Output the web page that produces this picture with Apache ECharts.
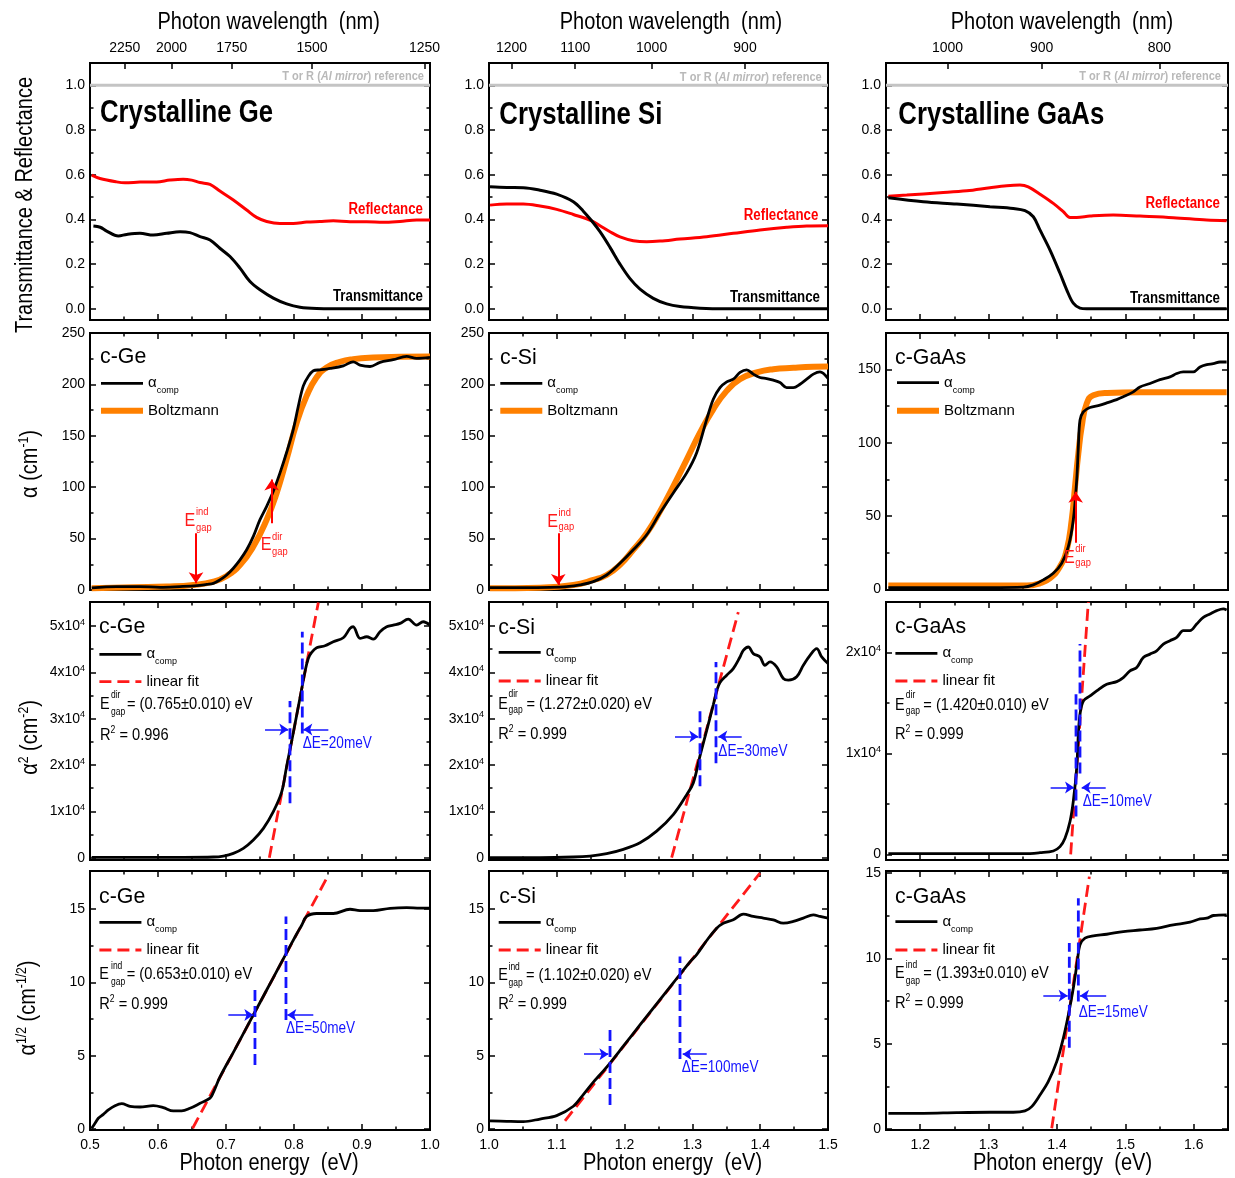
<!DOCTYPE html>
<html>
<head>
<meta charset="utf-8">
<title>Absorption edge of c-Ge, c-Si and c-GaAs</title>
<script src="https://cdn.jsdelivr.net/npm/echarts@6.0.0/dist/echarts.min.js"></script>
<style>
  html, body { margin: 0; padding: 0; background: #fff; }
  #main { width: 1235px; height: 1178px; }
</style>
</head>
<body>
<div id="main"></div>
<script>
const FONT = '"Liberation Sans", Arial, sans-serif';
const SX = 0.85; // horizontal squeeze for the condensed look of the figure texts
const HC = 1239.84; // eV*nm, used for the wavelength axis

// ---- row 1: transmittance / reflectance, [photon energy eV, value]
const geTrans = [[0.505,0.371],[0.515,0.365],[0.5245,0.348],[0.5417,0.326],[0.554,0.333],[0.5735,0.338],[0.593,0.33],[0.6128,0.338],[0.6324,0.345],[0.647,0.341],[0.6618,0.323],[0.6765,0.308],[0.691,0.271],[0.7059,0.234],[0.7206,0.182],[0.7353,0.122],[0.75,0.085],[0.7696,0.048],[0.7892,0.022],[0.8088,0.007],[0.8333,0.001],[0.8578,0],[1.0,0]];
const geRefl = [[0.5025,0.598],[0.5147,0.583],[0.539,0.568],[0.5515,0.564],[0.5735,0.567],[0.598,0.568],[0.6176,0.576],[0.637,0.58],[0.6495,0.576],[0.6618,0.565],[0.6765,0.557],[0.691,0.527],[0.7108,0.487],[0.7304,0.442],[0.745,0.409],[0.7598,0.391],[0.7794,0.382],[0.799,0.382],[0.8186,0.388],[0.838,0.391],[0.8578,0.394],[0.8824,0.39],[0.9069,0.39],[0.9313,0.387],[0.9559,0.391],[0.9804,0.397],[1.0,0.397]];
const siTrans = [[1.0015,0.546],[1.0261,0.543],[1.0506,0.542],[1.0752,0.531],[1.0998,0.513],[1.1244,0.479],[1.1391,0.437],[1.1514,0.394],[1.1637,0.345],[1.1785,0.275],[1.1932,0.2],[1.208,0.135],[1.2227,0.088],[1.2423,0.047],[1.2621,0.022],[1.2817,0.01],[1.3112,0.003],[1.3456,0],[1.5,0]];
const siRefl = [[1.0015,0.464],[1.0261,0.469],[1.0506,0.469],[1.0752,0.46],[1.0998,0.445],[1.1244,0.422],[1.1514,0.394],[1.1637,0.372],[1.1785,0.345],[1.1932,0.322],[1.2128,0.305],[1.2326,0.3],[1.2522,0.303],[1.2817,0.312],[1.3211,0.323],[1.3603,0.338],[1.3997,0.353],[1.4391,0.365],[1.4686,0.371],[1.5,0.372]];
const gaTrans = [[1.1534,0.497],[1.2045,0.479],[1.2534,0.469],[1.302,0.457],[1.3361,0.449],[1.3532,0.439],[1.3654,0.412],[1.3751,0.353],[1.3898,0.263],[1.4044,0.159],[1.4142,0.085],[1.4238,0.025],[1.4336,0.003],[1.4434,0],[1.648,0]];
const gaRefl = [[1.1534,0.504],[1.1803,0.509],[1.229,0.519],[1.268,0.528],[1.302,0.542],[1.3265,0.551],[1.3459,0.554],[1.358,0.546],[1.3751,0.513],[1.3946,0.472],[1.4092,0.435],[1.419,0.409],[1.4288,0.409],[1.4482,0.415],[1.4823,0.42],[1.5213,0.415],[1.57,0.408],[1.6189,0.397],[1.648,0.394]];

// ---- row 2: alpha (cm-1) and Boltzmann fit
const geAlpha = [[0.5025,2],[0.539,3.3],[0.5735,3.3],[0.603,2.6],[0.632,3.3],[0.657,4.2],[0.6716,5.5],[0.6814,6.5],[0.691,9.8],[0.701,14.6],[0.7108,21.2],[0.7206,29.3],[0.7304,39.1],[0.7402,52.1],[0.75,68.4],[0.7598,81.4],[0.7696,96],[0.7794,113.9],[0.789,133.5],[0.799,156.3],[0.8064,179],[0.8137,198.6],[0.821,207.7],[0.8284,213.2],[0.838,214.2],[0.853,215.5],[0.8725,218.1],[0.887,222],[0.897,218.8],[0.9118,217.4],[0.9265,221.4],[0.946,224],[0.9657,227.2],[0.9804,225.3],[1.0,226.2]];
const geBoltz = [[0.5025,1.6],[0.5637,2.6],[0.6128,3.3],[0.652,4.9],[0.6814,8.1],[0.701,13.7],[0.7206,24.4],[0.7402,42.3],[0.7598,68.4],[0.7745,94.4],[0.789,126.9],[0.804,162.8],[0.8186,188.8],[0.833,206.7],[0.848,216.5],[0.8676,222],[0.887,224.6],[0.9167,226.2],[0.9559,226.9],[1.0,227.2]];
const siAlpha = [[1.0015,2.3],[1.0506,2.3],[1.09,2.6],[1.1146,3.3],[1.1342,4.9],[1.1539,8.1],[1.1736,14.6],[1.1932,26],[1.2128,39.1],[1.2326,53.7],[1.2522,74.9],[1.2718,94.4],[1.2916,113.9],[1.3063,133.5],[1.3211,166],[1.3308,185.5],[1.3407,196.9],[1.3506,202.5],[1.3603,205.1],[1.3702,211.6],[1.38,214.2],[1.3898,210],[1.3997,206.7],[1.4096,205.7],[1.4193,204.1],[1.4292,201.8],[1.439,196.9],[1.4489,196.9],[1.4587,200.2],[1.4686,205.1],[1.4784,210],[1.4882,212.2],[1.5,205.7]];
const siBoltz = [[1.0015,1.6],[1.0752,2.3],[1.1244,4.9],[1.1539,9.8],[1.1736,14.6],[1.1932,24.4],[1.2128,39.1],[1.2326,55.3],[1.2522,76.5],[1.2718,100.9],[1.2916,126.9],[1.3112,153],[1.3308,175.8],[1.3506,193.7],[1.3702,205.1],[1.3948,211.6],[1.4193,214.8],[1.4489,216.1],[1.4784,217.1],[1.5,217.4]];
const gaAlpha = [[1.1534,1.1],[1.229,1.1],[1.302,1.1],[1.3508,1.4],[1.3654,3],[1.38,6.4],[1.3946,10.9],[1.4068,17.7],[1.4166,29.1],[1.4238,47.3],[1.4288,74.5],[1.4312,97.3],[1.4336,115.5],[1.4385,121.1],[1.4482,124.1],[1.4629,125.7],[1.4727,127.3],[1.4873,129.5],[1.4969,131.4],[1.5116,134.8],[1.5213,138.2],[1.536,140.5],[1.5506,143.2],[1.5652,145],[1.575,147.3],[1.5846,148.4],[1.5993,148.4],[1.6091,151.8],[1.6189,153.4],[1.6285,154.1],[1.6383,155.2],[1.648,155.2]];
const gaBoltz = [[1.1534,2.5],[1.2777,2.5],[1.3557,2.5],[1.3751,4.1],[1.3898,7.5],[1.4044,15.5],[1.4142,26.8],[1.4215,47.3],[1.4263,70],[1.4312,92.7],[1.4361,110.9],[1.4434,126.8],[1.4531,132.5],[1.4727,134.1],[1.5213,134.5],[1.648,134.5]];
// red gap arrows: [from, to]
const geGapArrows = [[[0.6559,55.3],[0.6559,6.5]],[[0.7672,65],[0.7672,107.4]]];
const siGapArrows = [[[1.1022,55.3],[1.1022,4.9]]];
const gaGapArrows = [[[1.4273,31.8],[1.4273,66.6]]];

// ---- row 3: alpha^2 (cm-2), linear fit, dashed markers and arrows
const geAlpha2 = [[0.5025,72],[0.5637,72],[0.6373,72],[0.6814,144],[0.696,360],[0.7108,935],[0.7255,2014],[0.7402,3813],[0.755,6331],[0.7696,9928],[0.7819,14200],[0.789,19600],[0.7966,25200],[0.804,30800],[0.8113,36400],[0.8162,40200],[0.821,43000],[0.826,44300],[0.8333,45300],[0.8456,45755],[0.8578,46619],[0.8725,47482],[0.8824,49496],[0.887,49856],[0.8971,47338],[0.9069,47697],[0.9167,47194],[0.9265,48776],[0.9363,49856],[0.946,50216],[0.9559,50575],[0.968,51510],[0.9804,50216],[0.99,50935],[1.0,50216]];
const siAlpha2 = [[1.0015,0],[1.0752,0],[1.1244,143],[1.149,358],[1.1736,860],[1.1981,1791],[1.2227,3223],[1.2473,5730],[1.2718,9312],[1.2916,13609],[1.3013,16117],[1.3112,22000],[1.3211,27500],[1.3308,33000],[1.3358,36000],[1.3407,37820],[1.3506,39396],[1.3603,40829],[1.3702,43336],[1.3751,44768],[1.3825,45485],[1.3898,44052],[1.3997,43336],[1.407,41545],[1.4145,42261],[1.4243,41187],[1.4341,38680],[1.4415,38322],[1.4538,39038],[1.4636,41545],[1.4735,43694],[1.4833,45127],[1.4907,43336],[1.5,41903]];
const gaAlpha2 = [[1.1534,66],[1.229,66],[1.302,66],[1.3508,66],[1.3751,166],[1.3946,332],[1.4044,763],[1.4117,1592],[1.419,3251],[1.4238,5241],[1.4288,8558],[1.4312,11875],[1.4336,13865],[1.4385,15192],[1.4482,15689],[1.458,16187],[1.4727,16850],[1.4873,17115],[1.4969,17513],[1.5067,18177],[1.5165,18509],[1.5262,19504],[1.536,19836],[1.5457,20167],[1.5555,20831],[1.5652,21163],[1.575,21494],[1.5846,22158],[1.5944,22158],[1.6042,22821],[1.6139,23485],[1.6237,23817],[1.6335,24148],[1.6432,24314],[1.648,24214]];
const geFit2 = [[0.7637,0],[0.8358,55100]];
const siFit2 = [[1.2694,0],[1.3677,53000]];
const gaFit2 = [[1.42,0],[1.4458,25000]];
const geMark2 = [[[0.7941,11726],[0.7941,33812]],[[0.8122,26834],[0.8122,48775]]];
const siMark2 = [[[1.3112,15400],[1.3112,32233]],[[1.3348,20414],[1.3348,42261]]];
const gaMark2 = [[[1.4278,3748],[1.4278,15855]],[[1.4336,8000],[1.4336,20831]]];
const geArrow2 = [[[0.7574,27697],[0.7916,27697]],[[0.8505,27697],[0.8137,27697]]];
const siArrow2 = [[[1.2743,26145],[1.3087,26145]],[[1.3727,26145],[1.3382,26145]]];
const gaArrow2 = [[[1.3907,6634],[1.4249,6634]],[[1.4712,6634],[1.4361,6634]]];

// ---- row 4: alpha^1/2 (cm-1/2)
const geRoot = [[0.5025,0.05],[0.5074,0.39],[0.5122,0.73],[0.5196,1.0],[0.527,1.3],[0.5368,1.59],[0.5466,1.73],[0.5588,1.55],[0.5735,1.5],[0.5931,1.59],[0.6078,1.46],[0.6225,1.23],[0.6348,1.23],[0.647,1.41],[0.6618,1.75],[0.6765,2.1],[0.6814,2.5],[0.691,3.53],[0.7108,5.23],[0.7304,6.93],[0.75,8.63],[0.7696,10.33],[0.789,12.02],[0.8039,13.3],[0.8113,13.9],[0.8186,14.5],[0.8333,14.7],[0.8578,14.7],[0.8824,14.99],[0.897,14.9],[0.9167,14.9],[0.9412,15.05],[0.9657,15.1],[0.9853,15.07],[1.0,15.07]];
const siRoot = [[1.0015,0.55],[1.0261,0.52],[1.0506,0.5],[1.0752,0.68],[1.0998,0.91],[1.1244,1.55],[1.1391,2.35],[1.1539,3.2],[1.1637,3.7],[1.1785,4.5],[1.1981,5.65],[1.2227,7.1],[1.2473,8.54],[1.2718,9.97],[1.2965,11.4],[1.3063,11.9],[1.3211,12.86],[1.3358,13.7],[1.3456,14.04],[1.3603,14.27],[1.3751,14.66],[1.3898,14.5],[1.4046,14.39],[1.4193,14.27],[1.4341,14.04],[1.4489,14.16],[1.4636,14.39],[1.4784,14.61],[1.4882,14.5],[1.5,14.39]];
const gaRoot = [[1.1534,0.92],[1.2045,0.92],[1.2534,0.96],[1.302,0.98],[1.3361,0.98],[1.3532,1.06],[1.363,1.31],[1.3751,1.99],[1.3872,2.77],[1.3996,3.95],[1.4092,5.32],[1.4166,6.69],[1.4238,8.25],[1.4297,9.82],[1.4336,10.8],[1.4409,11.19],[1.4531,11.33],[1.4727,11.42],[1.4969,11.58],[1.5213,11.67],[1.5457,11.77],[1.57,11.97],[1.5944,12.13],[1.6091,12.32],[1.6189,12.36],[1.6285,12.52],[1.648,12.56]];
const geFit3 = [[0.651,0.05],[0.848,17.1]];
const siFit3 = [[1.1121,0.55],[1.3997,17.46]];
const gaFit3 = [[1.3923,0.04],[1.4473,14.8]];
const geMark3 = [[[0.7426,4.37],[0.7426,9.83]],[[0.7882,7.44],[0.7882,14.5]]];
const siMark3 = [[[1.1785,1.64],[1.1785,7.1]],[[1.2817,4.78],[1.2817,11.77]]];
const gaMark3 = [[[1.418,4.77],[1.418,10.9]],[[1.4312,7.47],[1.4312,13.53]]];
const geArrow3 = [[[0.7034,7.78],[0.7402,7.78]],[[0.8284,7.78],[0.7902,7.78]]];
const siArrow3 = [[[1.1401,5.1],[1.176,5.1]],[[1.3211,5.1],[1.2857,5.1]]];
const gaArrow3 = [[[1.38,7.82],[1.4156,7.82]],[[1.4719,7.82],[1.4336,7.82]]];

// ---- axes: ranges and tick values
const materials = ['Ge', 'Si', 'GaAs'];
const xRange = [[0.5, 1.0], [1.0, 1.5], [1.15, 1.65]];
const xMajor = [[0.5,0.6,0.7,0.8,0.9,1.0],[1.0,1.1,1.2,1.3,1.4,1.5],[1.2,1.3,1.4,1.5,1.6]];
const xMinor = [[0.55,0.65,0.75,0.85,0.95],[1.05,1.15,1.25,1.35,1.45],[1.25,1.35,1.45,1.55]];
const wavelengthTicks = [[2250,2000,1750,1500,1250],[1200,1100,1000,900],[1000,900,800]];
const yRange = [
  [[-0.05,1.1],[-0.05,1.1],[-0.05,1.1]],
  [[0,250],[0,250],[-0.5,175]],
  [[-500,55200],[-500,55200],[-560,25000]],
  [[-0.07,17.6],[-0.07,17.6],[-0.06,15.13]]
];
const yMajor = [
  [[0,0.2,0.4,0.6,0.8,1.0],[0,0.2,0.4,0.6,0.8,1.0],[0,0.2,0.4,0.6,0.8,1.0]],
  [[0,50,100,150,200,250],[0,50,100,150,200,250],[0,50,100,150]],
  [[0,10000,20000,30000,40000,50000],[0,10000,20000,30000,40000,50000],[0,10000,20000]],
  [[0,5,10,15],[0,5,10,15],[0,5,10,15]]
];
const yMinor = [
  [[0.1,0.3,0.5,0.7,0.9],[0.1,0.3,0.5,0.7,0.9],[0.1,0.3,0.5,0.7,0.9]],
  [[25,75,125,175,225],[25,75,125,175,225],[25,75,125]],
  [[5000,15000,25000,35000,45000],[5000,15000,25000,35000,45000],[5000,15000]],
  [[2.5,7.5,12.5],[2.5,7.5,12.5],[2.5,7.5,12.5]]
];
const yFormat = [
  v => v.toFixed(1),
  v => String(Math.round(v)),
  v => v === 0 ? '0' : Math.round(v / 10000) + 'x10{sup|4}',
  v => String(Math.round(v))
];
const yTitles = ['Transmittance & Reflectance', 'α (cm{sup|-1})', 'α{sup|2} (cm{sup|-2})', 'α{sup|1/2} (cm{sup|-1/2})'];
const yTitlePos = [[26, 205], [31, 464], [31, 737.5], [29, 1008]];
const topTitleX = [268.7, 671, 1062];
const bottomTitleX = [269, 672.5, 1062.5];

// layout of the 4 x 3 panels
const colLeft = [90, 489, 886];
const colWidth = [340, 339, 342];
const rowTop = [63, 333, 602, 871];
const rowHeight = [257, 257, 258, 259];

const grids = [], xAxes = [], yAxes = [], series = [], legends = [], graphics = [];

function tickAxis(g, position, range, values, len) {
  return {
    type: 'value', gridIndex: g, position: position, min: range[0], max: range[1],
    axisLine: { show: true, onZero: false, lineStyle: { color: '#000', width: 2 } },
    axisTick: { show: values.length > 0, inside: true, length: len, customValues: values, lineStyle: { color: '#000', width: 1.5 } },
    axisLabel: { show: false },
    splitLine: { show: false },
    silent: true
  };
}

function labels(values, formatter, margin) {
  return {
    show: true, customValues: values, formatter: formatter, margin: margin,
    color: '#000', fontFamily: FONT, fontSize: 14, lineHeight: 17,
    rich: { sup: { fontFamily: FONT, fontSize: 9, verticalAlign: 'top', lineHeight: 17, color: '#000' } }
  };
}

function line(name, g, data, color, width, extra) {
  return Object.assign({
    type: 'line', name: name, xAxisIndex: 4 * g, yAxisIndex: 4 * g, data: data,
    showSymbol: false, symbol: 'none', silent: true,
    lineStyle: { color: color, width: width }, itemStyle: { color: color }
  }, extra || {});
}

function arrowMarks(arrows, color, width, size) {
  return {
    silent: true, symbol: ['none', 'arrow'], symbolSize: size,
    label: { show: false },
    lineStyle: { color: color, width: width, type: 'solid' },
    itemStyle: { color: color },
    data: arrows.map(a => [{ coord: a[0] }, { coord: a[1] }])
  };
}

const smooth = { smooth: 0.35 };

function txt(x, y, text, size, opt) {
  opt = opt || {};
  const el = {
    type: 'text', x: x, y: y, silent: true, z: 10,
    scaleX: opt.sx === undefined ? SX : opt.sx,
    style: {
      text: text, fill: opt.color || '#000',
      fontFamily: FONT, fontSize: size, fontWeight: opt.bold ? 'bold' : 'normal',
      textAlign: opt.align || 'left', align: opt.align || 'left',
      textVerticalAlign: 'middle', verticalAlign: 'middle',
      rich: opt.rich
    }
  };
  if (opt.rotation) el.rotation = opt.rotation;
  return el;
}

// E with stacked super/subscript
function gapLabel(ex, ey, sx, supY, subY, kind, size, small, color) {
  graphics.push(txt(ex, ey, 'E', size, { color: color }));
  graphics.push(txt(sx, supY, kind, small, { color: color }));
  graphics.push(txt(sx, subY, 'gap', small, { color: color }));
}

const supRich = { sup: { fontFamily: FONT, fontSize: 10, verticalAlign: 'top', lineHeight: 20, fill: '#000' } };
const titleRich = { sup: { fontFamily: FONT, fontSize: 14, verticalAlign: 'top', lineHeight: 28, fill: '#000' } };

for (let r = 0; r < 4; r++) {
  for (let c = 0; c < 3; c++) {
    const g = r * 3 + c;
    grids.push({ left: colLeft[c], top: rowTop[r], width: colWidth[c], height: rowHeight[r] });
    const xr = xRange[c];

    const bottom = tickAxis(g, 'bottom', xr, xMajor[c], 6);
    if (r === 3) bottom.axisLabel = labels(xMajor[c], v => v.toFixed(1), 7);
    xAxes.push(bottom);
    xAxes.push(tickAxis(g, 'bottom', xr, xMinor[c], 3.5));
    if (r === 0) {
      const wlE = wavelengthTicks[c].map(l => HC / l);
      const top = tickAxis(g, 'top', xr, wlE, 6);
      top.axisLabel = labels(wlE, v => String(Math.round(HC / v)), 6);
      xAxes.push(top);
      xAxes.push(tickAxis(g, 'top', xr, [], 0));
    } else {
      xAxes.push(tickAxis(g, 'top', xr, xMajor[c], 6));
      xAxes.push(tickAxis(g, 'top', xr, xMinor[c], 3.5));
    }

    const yr = yRange[r][c];
    const left = tickAxis(g, 'left', yr, yMajor[r][c], 6);
    left.axisLabel = labels(yMajor[r][c], yFormat[r], 5);
    yAxes.push(left);
    yAxes.push(tickAxis(g, 'left', yr, yMinor[r][c], 3.5));
    yAxes.push(tickAxis(g, 'right', yr, yMajor[r][c], 6));
    yAxes.push(tickAxis(g, 'right', yr, yMinor[r][c], 3.5));
  }
}

// axis titles
for (let c = 0; c < 3; c++) {
  graphics.push(txt(topTitleX[c], 23, 'Photon wavelength  (nm)', 23, { align: 'center', sx: 0.87 }));
  graphics.push(txt(bottomTitleX[c], 1164, 'Photon energy  (eV)', 23, { align: 'center', sx: 0.87 }));
}
for (let r = 0; r < 4; r++) {
  graphics.push(txt(yTitlePos[r][0], yTitlePos[r][1], yTitles[r], 23, { align: 'center', sx: 0.87, rotation: Math.PI / 2, rich: titleRich }));
}

// ---- row 1 series and texts
const trData = [[geTrans, geRefl], [siTrans, siRefl], [gaTrans, gaRefl]];
const titlePos = [[100, 113.3], [499.3, 115], [898.3, 115]];
const refPos = [[424, 76], [821.7, 77], [1221, 76]];
const reflPos = [[423, 209.6], [818.3, 215.5], [1220, 204]];
const transPos = [[423, 296.7], [820, 297.8], [1220, 298.3]];
for (let c = 0; c < 3; c++) {
  const g = c;
  series.push(line(materials[c] + ' reference', g, [[xRange[c][0], 1], [xRange[c][1], 1]], '#c4c4c4', 3));
  series.push(line(materials[c] + ' R', g, trData[c][1], '#ff0000', 3, smooth));
  series.push(line(materials[c] + ' T', g, trData[c][0], '#000', 3, smooth));
  graphics.push(txt(titlePos[c][0], titlePos[c][1], 'Crystalline ' + materials[c], 31, { bold: true, sx: 0.83 }));
  graphics.push(txt(refPos[c][0], refPos[c][1], 'T or R ({i|Al mirror}) reference', 13, {
    bold: true, color: '#b9b9b9', align: 'right',
    rich: { i: { fontFamily: FONT, fontSize: 13, fontWeight: 'bold', fontStyle: 'italic', fill: '#b9b9b9' } }
  }));
  graphics.push(txt(reflPos[c][0], reflPos[c][1], 'Reflectance', 16, { bold: true, color: '#ff0000', align: 'right', sx: 0.83 }));
  graphics.push(txt(transPos[c][0], transPos[c][1], 'Transmittance', 16, { bold: true, align: 'right', sx: 0.83 }));
}

// ---- legends (rows 2-4)
const legendLeft = [98, 497.3, 894];
const legendY = [
  [[383.3, 410.7], [383.3, 410.7], [382.7, 410.7]],
  [[654.3, 681.7], [652.3, 681], [653.3, 681]],
  [[922.3, 950], [922.3, 950], [921.7, 950]]
];
const headPos = [
  [[100, 356.7], [500, 357.7], [895, 358]],
  [[99, 627.3], [498.3, 628.3], [895, 627.3]],
  [[99, 896.7], [499.3, 896.7], [895, 897.3]]
];
function addLegend(r, c, names) {
  const ys = legendY[r - 1][c];
  legends.push({
    left: legendLeft[c], top: ys[0] - 12, orient: 'vertical', padding: 0,
    itemWidth: 42, itemHeight: 14, itemGap: ys[1] - ys[0] - 21,
    selectedMode: false, data: names,
    lineStyle: { width: 'inherit' },
    itemStyle: { opacity: 0, borderWidth: 0 },
    formatter: n => n.endsWith('comp') ? 'α{sub|comp}' : (n.endsWith('fit') ? 'linear fit' : 'Boltzmann'),
    textStyle: {
      color: '#000', fontFamily: FONT, fontSize: 15, lineHeight: 18,
      rich: { sub: { fontFamily: FONT, fontSize: 9, lineHeight: 24, verticalAlign: 'bottom', color: '#000' } }
    }
  });
  const h = headPos[r - 1][c];
  graphics.push(txt(h[0], h[1], 'c-' + materials[c], 22, { sx: 0.97 }));
}

// ---- row 2
const alphaData = [[geAlpha, geBoltz, geGapArrows], [siAlpha, siBoltz, siGapArrows], [gaAlpha, gaBoltz, gaGapArrows]];
for (let c = 0; c < 3; c++) {
  const g = 3 + c;
  const base = materials[c] + '2';
  series.push(line(base + 'boltz', g, alphaData[c][1], '#ff8000', 6, { smooth: 0.5 }));
  series.push(line(base + 'comp', g, alphaData[c][0], '#000', 2.8, Object.assign({
    markLine: arrowMarks(alphaData[c][2], '#ff0000', 2, 11)
  }, smooth)));
  addLegend(1, c, [base + 'comp', base + 'boltz']);
}
const red = '#ff1a1a';
gapLabel(184.5, 521, 196, 512.3, 527.5, 'ind', 19, 11, red);
gapLabel(260.7, 545, 272, 536.7, 551.7, 'dir', 19, 11, red);
gapLabel(547.3, 522, 558.5, 512.5, 526.7, 'ind', 19, 11, red);
gapLabel(1064, 557.5, 1075.3, 549.2, 563.3, 'dir', 19, 11, red);

// ---- rows 3 and 4
const fitRows = [
  { row: 2, kind: 'dir',
    data: [[geAlpha2, geFit2, geMark2, geArrow2], [siAlpha2, siFit2, siMark2, siArrow2], [gaAlpha2, gaFit2, gaMark2, gaArrow2]],
    values: ['= (0.765±0.010) eV', '= (1.272±0.020) eV', '= (1.420±0.010) eV'],
    r2: ['0.996', '0.999', '0.999'],
    ePos: [[100, 704, 111, 695, 712, 127], [498.3, 704.5, 508.5, 694.7, 710.5, 526.5], [895, 705, 905.8, 695.3, 711, 923.3]],
    r2Y: [735, 734.2, 734.5],
    dE: ['ΔE=20meV', 'ΔE=30meV', 'ΔE=10meV'],
    dEPos: [[302.7, 744], [718.3, 751.3], [1082.7, 802]] },
  { row: 3, kind: 'ind',
    data: [[geRoot, geFit3, geMark3, geArrow3], [siRoot, siFit3, siMark3, siArrow3], [gaRoot, gaFit3, gaMark3, gaArrow3]],
    values: ['= (0.653±0.010) eV', '= (1.102±0.020) eV', '= (1.393±0.010) eV'],
    r2: ['0.999', '0.999', '0.999'],
    ePos: [[99.3, 974, 111, 966.7, 982.5, 126.7], [498.3, 975, 508.5, 967, 983, 526], [895, 973.3, 905.8, 965.5, 981.5, 923.3]],
    r2Y: [1004, 1004, 1003.3],
    dE: ['ΔE=50meV', 'ΔE=100meV', 'ΔE=15meV'],
    dEPos: [[286, 1029], [681.7, 1067.5], [1078.7, 1012.5]] }
];
const blue = '#1414ff';
fitRows.forEach(fr => {
  for (let c = 0; c < 3; c++) {
    const g = fr.row * 3 + c;
    const base = materials[c] + fr.row;
    const d = fr.data[c];
    series.push(line(base + 'fit', g, d[1], red, 2.8, { lineStyle: { color: red, width: 2.8, type: [12, 6] } }));
    series.push(line(base + 'comp', g, d[0], '#000', 2.8, smooth));
    d[2].forEach((seg, i) => {
      const s = line(base + 'mark' + i, g, seg, blue, 2.8, { lineStyle: { color: blue, width: 2.8, type: [11, 5] }, z: 4 });
      if (i === 0) s.markLine = arrowMarks(d[3], blue, 1.5, 9);
      series.push(s);
    });
    addLegend(fr.row, c, [base + 'comp', base + 'fit']);
    const p = fr.ePos[c];
    gapLabel(p[0], p[1], p[2], p[3], p[4], fr.kind, 17, 10, '#000');
    graphics.push(txt(p[5], p[1], fr.values[c], 17, { sx: 0.86 }));
    graphics.push(txt(p[0], fr.r2Y[c], 'R{sup|2} = ' + fr.r2[c], 17, { rich: supRich, sx: 0.86 }));
    graphics.push(txt(fr.dEPos[c][0], fr.dEPos[c][1], fr.dE[c], 16, { color: blue }));
  }
});

const chart = echarts.init(document.getElementById('main'), null, { renderer: 'canvas' });
chart.setOption({
  animation: false,
  backgroundColor: '#fff',
  grid: grids,
  xAxis: xAxes,
  yAxis: yAxes,
  legend: legends,
  series: series,
  graphic: { elements: graphics }
});
</script>
</body>
</html>
